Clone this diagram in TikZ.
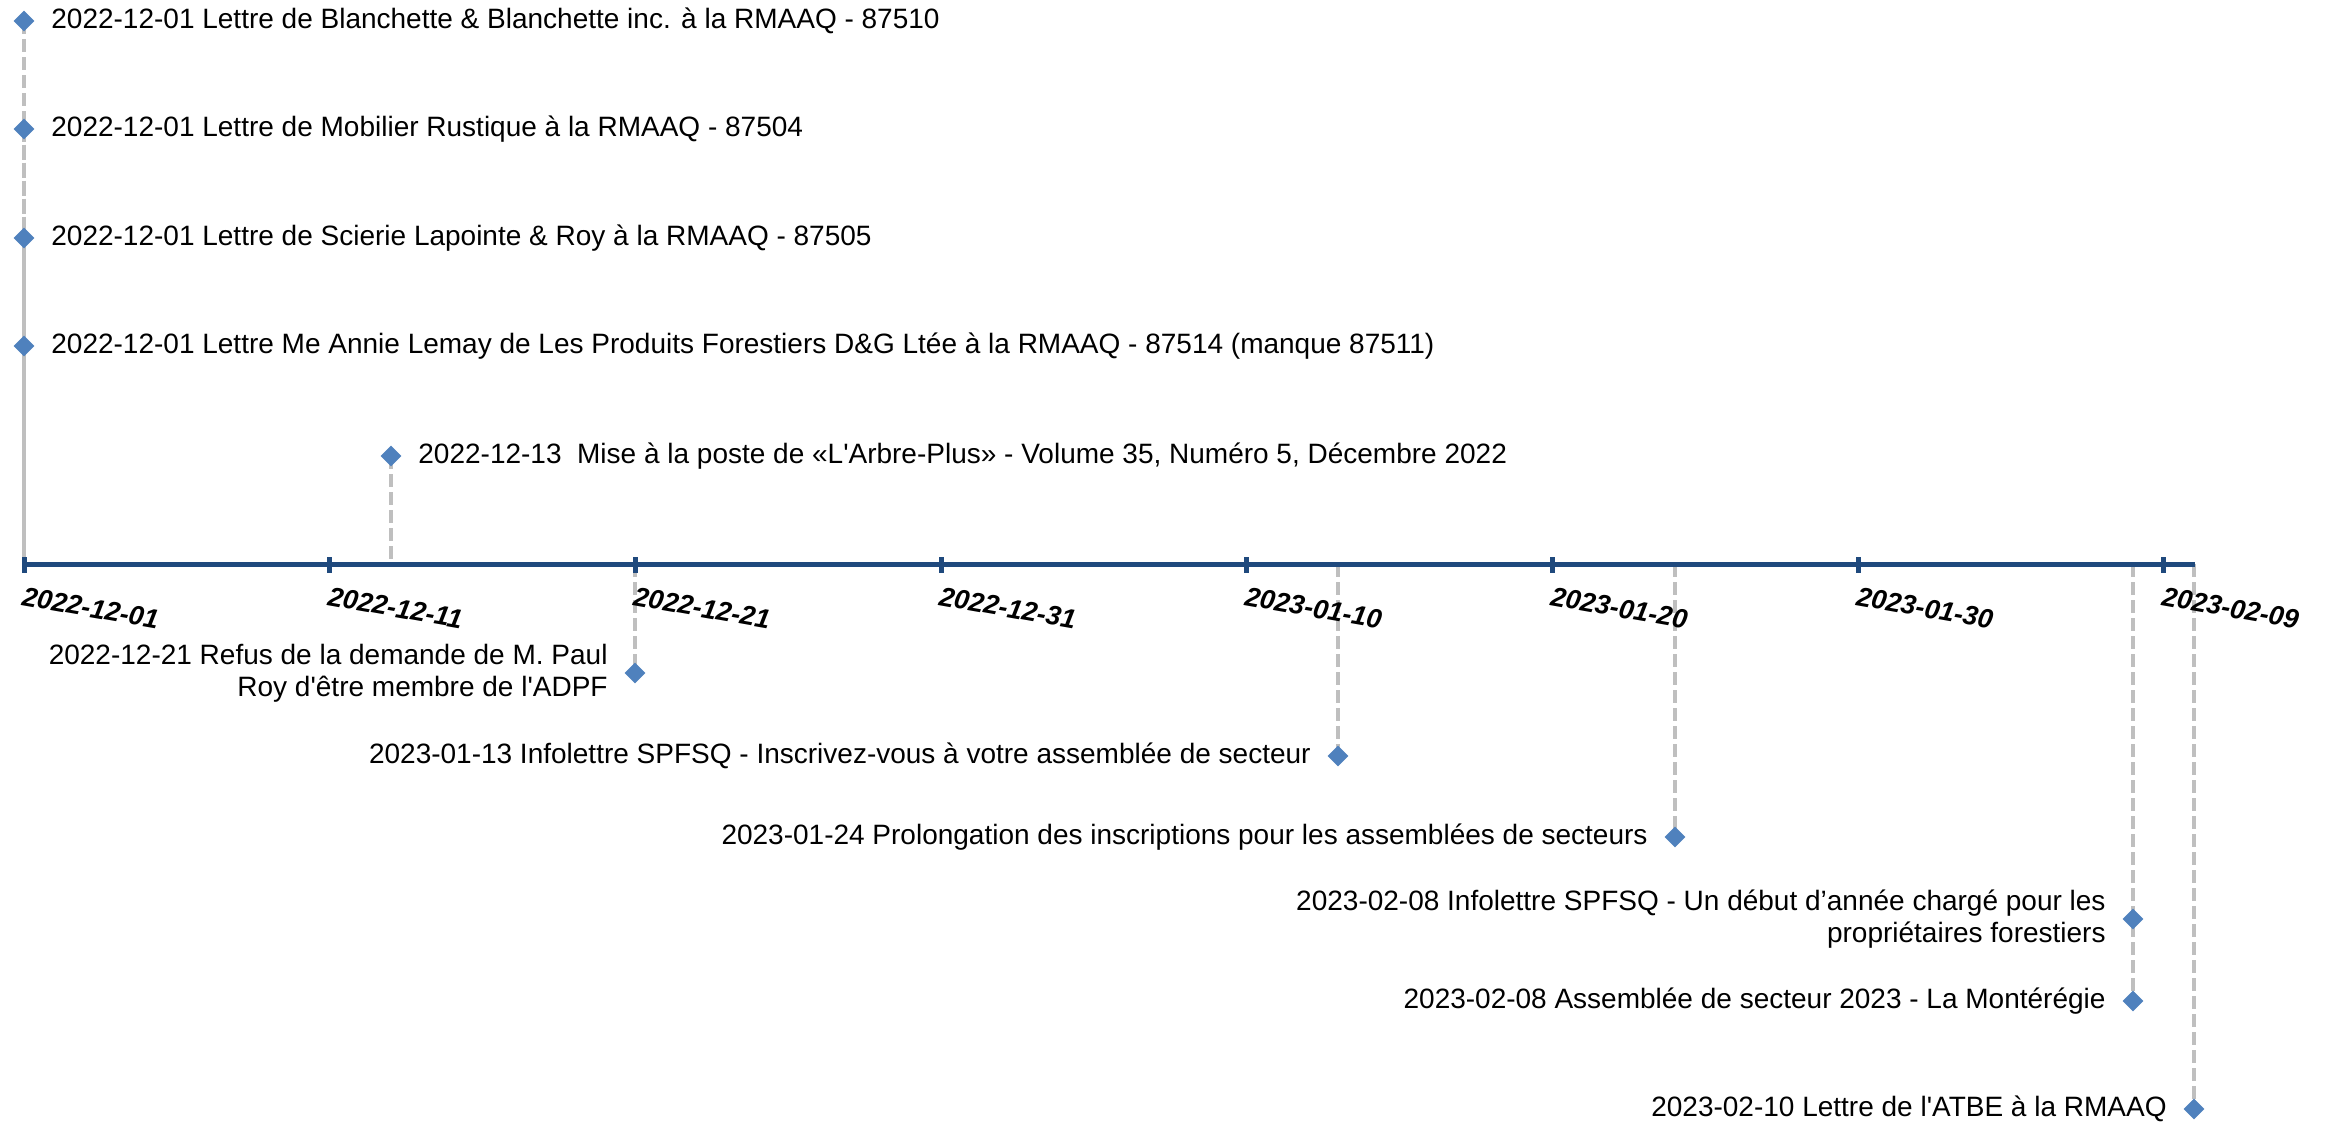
\documentclass[tikz,border=0pt]{standalone}
\usepackage{fontspec}
\newfontfamily\lfont{Liberation Sans}
\usetikzlibrary{shapes.geometric,backgrounds}
\definecolor{axisblue}{HTML}{1F497D}
\definecolor{dotblue}{HTML}{4F81BD}
\definecolor{conngray}{HTML}{BFBFBF}
\tikzset{
  dia/.style={diamond, fill=dotblue, draw=none, inner sep=0pt, minimum width=10.5pt, minimum height=10.5pt},
  conn/.style={draw=conngray, line width=2.4pt, dash pattern=on 6.5pt off 2.5pt},
  axisline/.style={draw=axisblue, line width=2.5pt},
  tickmark/.style={draw=axisblue, line width=2.5pt},
  evr/.style={anchor=west, inner sep=0pt, font=\lfont\fontsize{14}{16}\selectfont},
  evl/.style={anchor=east, inner sep=0pt, align=right, font=\lfont\fontsize{14}{16}\selectfont},
  datelbl/.style={anchor=north west, inner sep=0pt, rotate=-10, font=\lfont\bfseries\itshape\fontsize{13.5}{15}\selectfont}
}
\begin{document}
\begin{tikzpicture}[x=0.5pt, y=-0.5pt]
\useasboundingbox (0,0) rectangle (2328,1126);
% diamonds
\node[dia] (d1) at (24,21) {};
\node[dia] (d2) at (24,129) {};
\node[dia] (d3) at (24,238) {};
\node[dia] (d4) at (24,346) {};
\node[dia] (d5) at (391,456) {};
\node[dia] (d6) at (635,673) {};
\node[dia] (d7) at (1338,756) {};
\node[dia] (d8) at (1675,837) {};
\node[dia] (d9) at (2133,919) {};
\node[dia] (d10) at (2133,1001) {};
\node[dia] (d11) at (2194,1109) {};
% axis coordinates
\coordinate (p1) at (24,564);
\coordinate (p5) at (391,564);
\coordinate (p6) at (635,564);
\coordinate (p7) at (1338,564);
\coordinate (p8) at (1675,564);
\coordinate (p9) at (2133,564);
\coordinate (p11) at (2194,564);
\coordinate (axstart) at (24,564);
\coordinate (axend) at (2195,564);
\begin{pgfonlayer}{background}
% connectors
\draw[conn] (d1.center) -- (p1);
\draw[conn, dash phase=1.2pt] (d2.center) -- (p1);
\draw[conn, dash phase=3pt] (d3.center) -- (p1);
\draw[conn, dash phase=5pt] (d4.center) -- (p1);
\draw[conn] (d5.center) -- (p5);
\draw[conn] (p6) -- (d6.center);
\draw[conn] (p7) -- (d7.center);
\draw[conn] (p8) -- (d8.center);
\draw[conn] (p9) -- (d9.center);
\draw[conn] (p9) -- (d10.center);
\draw[conn] (p11) -- (d11.center);
% axis
\draw[axisline] (axstart) -- (axend);
\foreach \k in {0,...,7} {
  \draw[tickmark] ({24+305.7*\k},557) -- ({24+305.7*\k},573);
}
\end{pgfonlayer}
% date labels
\node[datelbl] (t0) at (24,586) {2022-12-01};
\node[datelbl] (t1) at (329.7,586) {2022-12-11};
\node[datelbl] (t2) at (635.4,586) {2022-12-21};
\node[datelbl] (t3) at (941.1,586) {2022-12-31};
\node[datelbl] (t4) at (1246.8,586) {2023-01-10};
\node[datelbl] (t5) at (1552.5,586) {2023-01-20};
\node[datelbl] (t6) at (1858.2,586) {2023-01-30};
\node[datelbl] (t7) at (2163.9,586) {2023-02-09};
% event texts
\node[evr] (e1) at (51,21) {2022-12-01 Lettre de Blanchette \& Blanchette inc. à la RMAAQ - 87510};
\node[evr] (e2) at (51,129) {2022-12-01 Lettre de Mobilier Rustique à la RMAAQ - 87504};
\node[evr] (e3) at (51,238) {2022-12-01 Lettre de Scierie Lapointe \& Roy à la RMAAQ - 87505};
\node[evr] (e4) at (51,346) {2022-12-01 Lettre Me Annie Lemay de Les Produits Forestiers D\&G Ltée à la RMAAQ - 87514 (manque 87511)};
\node[evr] (e5) at (418,456) {2022-12-13\ \ Mise à la poste de «L'Arbre-Plus» - Volume 35, Numéro 5, Décembre 2022};
\node[evl] (e6) at (608,673) {2022-12-21 Refus de la demande de M. Paul\\Roy d'être membre de l'ADPF};
\node[evl] (e7) at (1311,756) {2023-01-13 Infolettre SPFSQ - Inscrivez-vous à votre assemblée de secteur};
\node[evl] (e8) at (1648,837) {2023-01-24 Prolongation des inscriptions pour les assemblées de secteurs};
\node[evl] (e9) at (2106,919) {2023-02-08 Infolettre SPFSQ - Un début d’année chargé pour les\\propriétaires forestiers};
\node[evl] (e10) at (2106,1001) {2023-02-08 Assemblée de secteur 2023 - La Montérégie};
\node[evl] (e11) at (2167,1109) {2023-02-10 Lettre de l'ATBE à la RMAAQ};
\end{tikzpicture}
\end{document}
